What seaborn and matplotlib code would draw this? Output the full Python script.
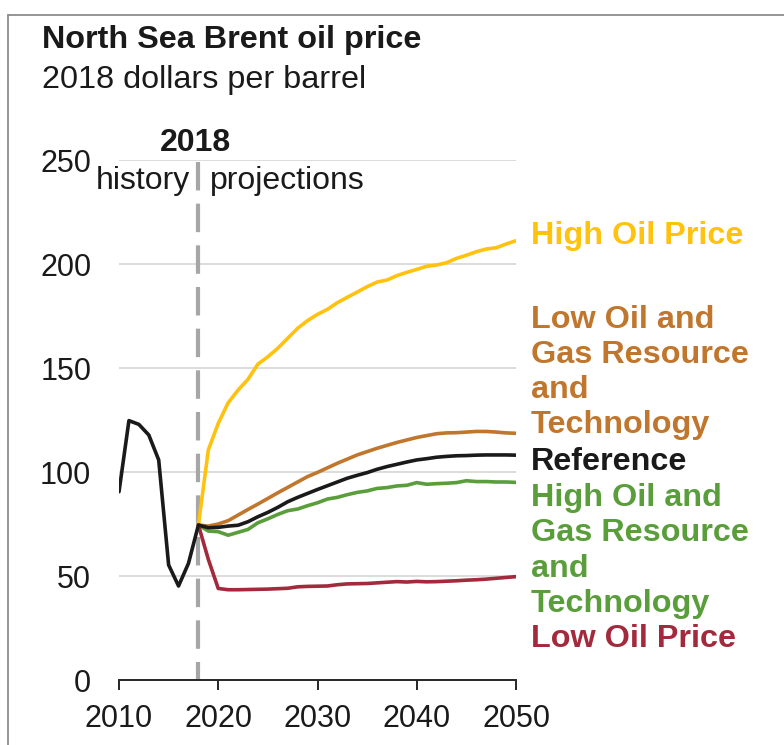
import numpy as np
import pandas as pd
import matplotlib
matplotlib.use("Agg")
import matplotlib.pyplot as plt
from matplotlib.lines import Line2D
import seaborn as sns

# ---------------- data ----------------
hist_years = list(range(2010, 2018))
hist_values = [90.5, 124.7, 122.9, 117.8, 105.8, 55.3, 45.2, 56.1]

proj_years = list(range(2018, 2051))
reference = [74.5, 73.2, 73.4, 74.0, 74.4, 76.1, 78.5, 80.6, 83.0, 85.7, 87.8, 89.7, 91.6,
             93.4, 95.2, 97.0, 98.4, 99.7, 101.3, 102.6, 103.7, 104.8, 105.8, 106.4, 107.1,
             107.5, 107.8, 107.9, 108.1, 108.2, 108.2, 108.2, 108.1]
high_price = [74.5, 110.6, 123.4, 133.3, 139.4, 144.6, 151.9, 155.4, 159.5, 164.3, 169.1,
              172.8, 175.8, 178.2, 181.4, 184.0, 186.5, 189.1, 191.3, 192.3, 194.4, 196.0,
              197.4, 198.9, 199.5, 200.6, 202.7, 204.2, 205.9, 207.2, 207.8, 209.6, 211.2]
low_resource = [74.5, 74.0, 75.0, 76.6, 79.3, 82.0, 84.6, 87.3, 90.0, 92.6, 95.2, 97.8, 99.8,
                102.0, 104.2, 106.2, 108.2, 109.8, 111.4, 112.8, 114.2, 115.4, 116.6, 117.5,
                118.4, 118.8, 118.9, 119.2, 119.5, 119.5, 119.2, 118.8, 118.6]
high_resource = [74.5, 71.6, 71.3, 69.6, 71.0, 72.4, 75.6, 77.5, 79.6, 81.4, 82.2, 83.8, 85.2,
                 87.0, 87.8, 89.1, 90.2, 90.9, 92.1, 92.5, 93.3, 93.6, 94.9, 94.1, 94.4, 94.6,
                 94.9, 95.8, 95.4, 95.4, 95.2, 95.2, 95.0]
low_price = [74.5, 58.0, 44.0, 43.4, 43.4, 43.5, 43.6, 43.7, 43.9, 44.1, 44.8, 45.0, 45.1,
             45.2, 45.8, 46.2, 46.3, 46.4, 46.7, 47.0, 47.3, 47.1, 47.4, 47.2, 47.3, 47.5,
             47.7, 48.0, 48.2, 48.5, 48.9, 49.3, 49.7]

case_names = ["High Oil Price", "Low Oil and Gas Resource and Technology",
              "High Oil and Gas Resource and Technology", "Low Oil Price", "Reference"]
case_labels = ["High Oil Price", "Low Oil and\nGas Resource\nand\nTechnology",
               "High Oil and\nGas Resource\nand\nTechnology", "Low Oil Price", "Reference"]
case_colors = ["#FFC20E", "#C0762C", "#5A9E3C", "#A32A3C", "#1A1A1A"]
label_y = [213.5, 147.8, 62.0, 19.5, 105.0]

x_ticks = [2010, 2020, 2030, 2040, 2050]
y_ticks = [0, 50, 100, 150, 200, 250]

# ---------------- build frame ----------------
frames = []
for name, vals in zip(case_names[:4], [high_price, low_resource, high_resource, low_price]):
    frames.append(pd.DataFrame({"year": proj_years, "price": vals, "case": name}))
frames.append(pd.DataFrame({"year": hist_years + proj_years,
                            "price": hist_values + reference, "case": "Reference"}))
df = pd.concat(frames, ignore_index=True)

# ---------------- plot ----------------
sns.set_theme(style="white")
plt.rcParams["font.family"] = ["Liberation Sans", "DejaVu Sans"]
plt.rcParams["lines.scale_dashes"] = False

W, H = 784, 745
fig = plt.figure(figsize=(W / 100, H / 100), dpi=100)
ax = fig.add_axes([119 / W, (H - 680) / H, (516 - 119) / W, (680 - 160) / H])

for y in y_ticks[1:]:
    ax.axhline(y, color="#D9D9D9", lw=1.3, zorder=0)

ax.plot([2018, 2018], [249.2, 0], color="#A6A6A6", lw=3.0, dashes=(20.5, 9.5),
        zorder=1, solid_capstyle="butt", dash_capstyle="butt")

palette = dict(zip(case_names, case_colors))
sns.lineplot(data=df, x="year", y="price", hue="case", hue_order=case_names,
             palette=palette, lw=2.6, legend=False, ax=ax, zorder=3)

ax.set_xlim(2010, 2050)
ax.set_ylim(0, 250)
ax.set_xticks(x_ticks)
ax.set_yticks(y_ticks)
ax.set_xlabel("")
ax.set_ylabel("")
for s in ["top", "right", "left"]:
    ax.spines[s].set_visible(False)
ax.spines["bottom"].set_color("#262626")
ax.spines["bottom"].set_linewidth(1.4)
ax.tick_params(axis="x", length=7, width=1.4, color="#262626", direction="out",
               labelsize=22, pad=10, labelcolor="#1A1A1A", bottom=True)
ax.tick_params(axis="y", length=0, labelsize=22, pad=20, labelcolor="#1A1A1A")
ax.grid(False)

# labels at right
for lab, col, yy in zip(case_labels, case_colors, label_y):
    ax.text(2051.5, yy, lab, color=col, fontsize=23.3, fontweight="bold",
            ha="left", va="center", linespacing=1.225, clip_on=False)

ax.text(2017.7, 258.2, "2018", fontsize=23, fontweight="bold", color="#1A1A1A",
        ha="center", va="center", clip_on=False)
ax.text(2017.2, 239.8, "history", fontsize=23, color="#1A1A1A",
        ha="right", va="center", clip_on=False)
ax.text(2019.2, 239.8, "projections", fontsize=23, color="#1A1A1A",
        ha="left", va="center", clip_on=False)

fig.text(42 / W, (H - 40) / H, "North Sea Brent oil price", fontsize=23.3,
         fontweight="bold", color="#1A1A1A", ha="left", va="center")
fig.text(42 / W, (H - 80) / H, "2018 dollars per barrel", fontsize=23.3,
         color="#1A1A1A", ha="left", va="center")

# frame lines at top and left
fig.add_artist(Line2D([8 / W, 8 / W], [0, (H - 15) / H], color="#8C8C8C", lw=1.3,
                      transform=fig.transFigure))
fig.add_artist(Line2D([8 / W, 1], [(H - 15) / H, (H - 15) / H], color="#8C8C8C", lw=1.3,
                      transform=fig.transFigure))

fig.savefig("out.png", dpi=100)
